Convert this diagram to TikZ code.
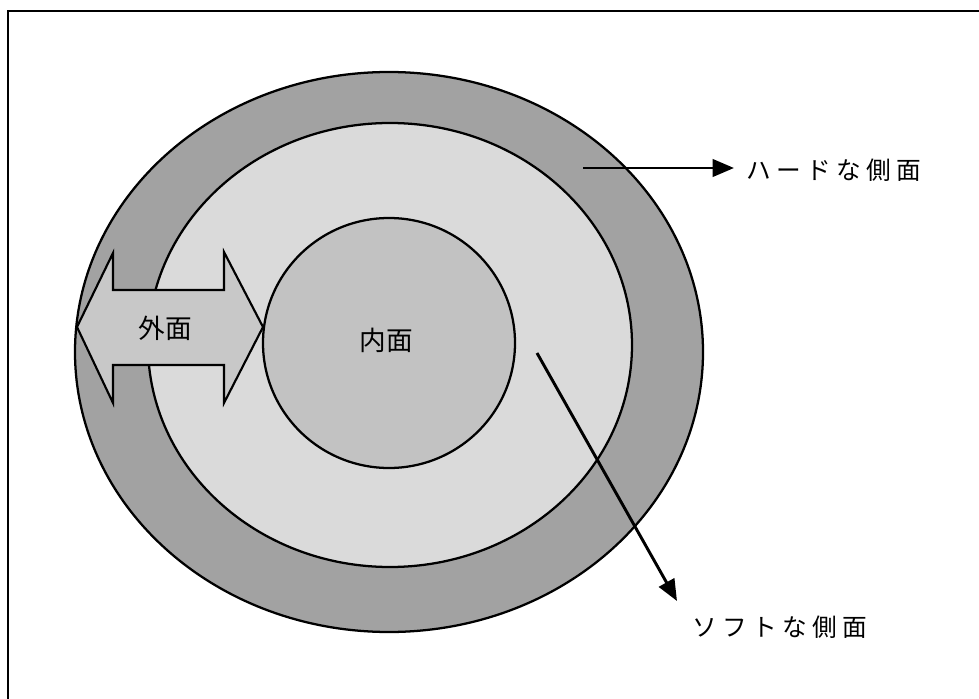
\documentclass[tikz,border=0pt]{standalone}
\usepackage{fontspec}
\newfontfamily\jp{Noto Sans CJK JP}
\newfontfamily\jpsp[LetterSpace=22]{Noto Sans CJK JP}
\usetikzlibrary{arrows.meta}
\definecolor{ringouter}{HTML}{A2A2A2}
\definecolor{ringmid}{HTML}{DADADA}
\definecolor{ringinner}{HTML}{C2C2C2}
\definecolor{bigarrow}{HTML}{C8C8C8}
\begin{document}
\begin{tikzpicture}[x=0.75pt,y=-0.75pt,
  ringline/.style={draw=black,line width=1.7pt},
  pointer/.style={line width=2.2pt,-{Triangle[length=16pt,width=13pt]}},
  sidelabel/.style={font=\jpsp\fontsize{18.5pt}{20pt}\selectfont,anchor=west,inner sep=0pt},
  ringlabel/.style={font=\jp\fontsize{20pt}{22pt}\selectfont,inner sep=0pt}]
\useasboundingbox (0,0) rectangle (979,699);
\coordinate (frameTL) at (8,11);
\draw[line width=0.9pt] (8,699) -- (frameTL) -- (979,11);
% rings
\draw[ringline,fill=ringouter] (389,352) ellipse [x radius=314, y radius=280];
\draw[ringline,fill=ringmid] (390,345) ellipse [x radius=242, y radius=222];
\draw[ringline,fill=ringinner] (389,343) ellipse [x radius=126, y radius=125];
% double arrow
\draw[line width=1.6pt,fill=bigarrow,line join=miter]
  (77,327) -- (113,253) -- (113,290) -- (224,290) -- (224,252) -- (263,327)
  -- (224,403) -- (224,365) -- (113,365) -- (113,403) -- cycle;
\node[ringlabel] (outerlbl) at (165,328) {外面};
\node[ringlabel] (innerlbl) at (386,340) {内面};
% pointers
\coordinate (hardstart) at (583,168);
\coordinate (hardend) at (734,168);
\node[sidelabel] (hard) at (746,170) {ハードな側面};
\draw[pointer] (hardstart) -- (hardend);
\coordinate (softstart) at (537,353);
\coordinate (softend) at (677,601);
\node[sidelabel] (soft) at (692,627) {ソフトな側面};
\draw[pointer] (softstart) -- (softend);
\end{tikzpicture}
\end{document}
